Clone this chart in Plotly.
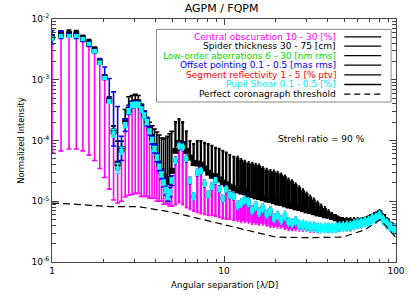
import numpy as np
import plotly.graph_objects as go

# ---------------- data ----------------
# angular separation [lambda/D]
x_sep = [1.0, 1.128, 1.256, 1.384, 1.512, 1.64, 1.768, 1.896, 2.024, 2.152,
         2.28, 2.408, 2.536, 2.664, 2.792, 2.92, 3.048, 3.176, 3.304, 3.432,
         3.56, 3.688, 3.816, 3.944, 4.072, 4.2, 4.328, 4.456, 4.584, 4.712,
         4.84, 4.968,
         5.22, 5.48, 5.75, 6.04, 6.34, 6.66, 6.99, 7.34, 7.71, 8.09,
         8.5, 8.92, 9.37, 9.84, 10.3, 10.8, 11.4, 12.0, 12.6, 13.2,
         13.9, 14.6, 15.3, 16.0, 16.8, 17.7, 18.6, 19.5, 20.5, 21.5,
         22.6, 23.7, 24.9, 26.1, 27.4, 28.8, 30.2, 31.7, 33.3, 35.0,
         36.7, 38.6, 40.5, 42.5, 44.7, 46.9, 49.2, 51.7, 54.3, 57.0,
         59.8, 62.8, 66.0, 69.3, 72.7, 76.4, 80.2, 84.2, 88.4, 92.8,
         97.5, 100.0]

# nominal normalized intensity (log10)
nominal_log = [-2.32, -2.28, -2.28, -2.28, -2.33, -2.41, -2.53, -2.72, -2.97, -3.36,
               -3.88, -4.46, -4.17, -3.75, -3.52, -3.42, -3.41, -3.41, -3.49, -3.59,
               -3.70, -3.85, -3.99, -4.14, -4.28, -4.43, -4.56, -4.69, -4.82, -4.93,
               -4.85, -4.66,
               -4.33, -4.09, -4.11, -4.30, -4.66, -4.92, -4.53, -4.50, -4.71, -4.89,
               -4.76, -4.66, -4.80, -4.95, -4.80, -4.90, -4.92, -5.07, -5.03, -4.98,
               -5.02, -5.15, -5.08, -5.18, -5.11, -5.21, -5.16, -5.28, -5.24, -5.31,
               -5.24, -5.34, -5.36, -5.33, -5.39, -5.39, -5.41, -5.42, -5.42, -5.44,
               -5.44, -5.44, -5.44, -5.44, -5.44, -5.42, -5.42, -5.41, -5.41, -5.39,
               -5.37, -5.36, -5.34, -5.33, -5.29, -5.28, -5.24, -5.31, -5.37, -5.42,
               -5.46, -5.47]

# central obscuration: lower bound (log10), upper bound = nominal
obsc_lo_log = [-4.20, -4.17, -4.14, -4.14, -4.17, -4.24, -4.33, -4.46, -4.61, -4.80,
               -4.98, -5.03, -5.00, -4.93, -4.90, -4.89, -4.87, -4.87, -4.92, -4.92,
               -4.92, -4.95, -4.95, -4.95, -5.00, -5.00, -5.00, -5.05, -5.05, -5.05,
               -5.08, -5.08,
               -5.05, -5.02, -5.05, -5.10, -5.13, -5.16, -5.18, -5.20, -5.21, -5.23,
               -5.23, -5.24, -5.26, -5.28, -5.29, -5.29, -5.31, -5.31, -5.33, -5.33,
               -5.34, -5.36, -5.36, -5.37, -5.37, -5.39, -5.41, -5.41, -5.42, -5.42,
               -5.44, -5.46, -5.46, -5.46, -5.47, -5.47, -5.47, -5.49, -5.49, -5.49,
               -5.49, -5.49, -5.49, -5.49, -5.49, -5.47, -5.47, -5.46, -5.46, -5.44,
               -5.42, -5.41, -5.39, -5.37, -5.34, -5.33, -5.29, -5.36, -5.42, -5.47,
               -5.50, -5.52]

# spider thickness: lower / upper bounds (log10)
spider_lo_log = [-2.30, -2.25, -2.25, -2.25, -2.32, -2.40, -2.51, -2.71, -2.96, -3.34,
                 -3.85, -4.38, -4.14, -3.68, -3.49, -3.39, -3.37, -3.37, -3.44, -3.55,
                 -3.67, -3.80, -3.94, -4.09, -4.25, -4.38, -4.50, -4.59, -4.66, -4.69,
                 -4.63, -4.50,
                 -4.17, -4.04, -4.06, -4.17, -4.28, -4.37, -4.38, -4.40, -4.46, -4.53,
                 -4.58, -4.59, -4.64, -4.69, -4.72, -4.76, -4.79, -4.82, -4.84, -4.85,
                 -4.89, -4.90, -4.92, -4.93, -4.95, -4.97, -4.98, -5.00, -5.02, -5.03,
                 -5.05, -5.07, -5.08, -5.10, -5.11, -5.13, -5.15, -5.16, -5.18, -5.20,
                 -5.21, -5.23, -5.24, -5.26, -5.28, -5.31, -5.33, -5.33, -5.34, -5.34,
                 -5.34, -5.33, -5.31, -5.29, -5.26, -5.23, -5.20, -5.26, -5.33, -5.39,
                 -5.42, -5.44]
spider_hi_log = [-2.27, -2.20, -2.18, -2.19, -2.27, -2.34, -2.46, -2.66, -2.92, -3.28,
                 -3.76, -4.01, -4.01, -3.49, -3.28, -3.26, -3.24, -3.26, -3.41, -3.52,
                 -3.62, -3.70, -3.76, -3.81, -3.86, -3.91, -3.96, -3.98, -3.96, -3.93,
                 -3.89, -3.85,
                 -3.70, -3.65, -3.70, -3.85, -4.01, -4.06, -4.01, -4.01, -4.04, -4.06,
                 -4.09, -4.12, -4.14, -4.17, -4.20, -4.24, -4.27, -4.28, -4.32, -4.35,
                 -4.37, -4.38, -4.40, -4.41, -4.45, -4.48, -4.50, -4.51, -4.53, -4.56,
                 -4.59, -4.64, -4.67, -4.72, -4.77, -4.82, -4.87, -4.92, -4.97, -5.02,
                 -5.07, -5.11, -5.16, -5.21, -5.24, -5.28, -5.29, -5.29, -5.29, -5.29,
                 -5.29, -5.29, -5.28, -5.26, -5.23, -5.20, -5.16, -5.23, -5.29, -5.36,
                 -5.39, -5.41]

# offset pointing: lower / upper bounds (log10)
pointing_lo_log = [-2.41, -2.32, -2.30, -2.32, -2.37, -2.45, -2.56, -2.74, -2.98, -3.36,
                   -4.09, -4.46, -4.33, -3.85, -3.57, -3.47, -3.44, -3.44, -3.54, -3.63,
                   -3.76, -3.91, -4.06, -4.20, -4.35, -4.50, -4.64, -4.77, -4.90, -5.00,
                   -4.93, -4.74,
                   -4.38, -4.14, -4.16, -4.35, -4.71, -4.97, -4.58, -4.55, -4.76, -4.94,
                   -4.81, -4.71, -4.85, -5.00, -4.85, -4.95, -4.97, -5.12, -5.08, -5.03,
                   -5.07, -5.20, -5.13, -5.23, -5.16, -5.26, -5.21, -5.33, -5.29, -5.36,
                   -5.29, -5.39, -5.41, -5.38, -5.44, -5.44, -5.46, -5.47, -5.47, -5.49,
                   -5.49, -5.49, -5.49, -5.49, -5.49, -5.47, -5.47, -5.46, -5.46, -5.44,
                   -5.42, -5.41, -5.39, -5.38, -5.34, -5.33, -5.29, -5.36, -5.42, -5.47,
                   -5.51, -5.52]
pointing_hi_log = [-2.19, -2.20, -2.24, -2.25, -2.30, -2.38, -2.50, -2.65, -2.79, -2.98,
                   -3.20, -3.44, -3.93, -3.65, -3.42, -3.36, -3.36, -3.36, -3.42, -3.52,
                   -3.63, -3.78, -3.93, -4.07, -4.22, -4.35, -4.48, -4.61, -4.74, -4.85,
                   -4.77, -4.58,
                   -4.28, -4.04, -4.06, -4.25, -4.61, -4.87, -4.48, -4.45, -4.66, -4.84,
                   -4.71, -4.61, -4.75, -4.90, -4.75, -4.85, -4.87, -5.02, -4.98, -4.93,
                   -4.97, -5.10, -5.03, -5.13, -5.06, -5.16, -5.11, -5.23, -5.19, -5.26,
                   -5.19, -5.29, -5.31, -5.28, -5.34, -5.34, -5.36, -5.37, -5.37, -5.39,
                   -5.39, -5.39, -5.39, -5.39, -5.39, -5.37, -5.37, -5.36, -5.36, -5.34,
                   -5.32, -5.31, -5.29, -5.28, -5.24, -5.23, -5.19, -5.26, -5.32, -5.37,
                   -5.41, -5.42]

# pupil shear: symmetric spread (dex)
shear_err_dex = [0.02, 0.02, 0.02, 0.02, 0.02, 0.02, 0.02, 0.02, 0.02, 0.03,
                 0.06, 0.08, 0.06, 0.04, 0.04, 0.04, 0.04, 0.04, 0.04, 0.04,
                 0.04, 0.04, 0.04, 0.04, 0.04, 0.04, 0.04, 0.04, 0.04, 0.04,
                 0.04, 0.04,
                 0.04, 0.04, 0.04, 0.04, 0.04, 0.05, 0.04, 0.04, 0.04, 0.05,
                 0.04, 0.04, 0.04, 0.05, 0.04, 0.04, 0.04, 0.05, 0.05, 0.04,
                 0.05, 0.05, 0.05, 0.05, 0.05, 0.05, 0.05, 0.05, 0.05, 0.05,
                 0.05, 0.05, 0.05, 0.05, 0.06, 0.06, 0.06, 0.06, 0.06, 0.06,
                 0.06, 0.06, 0.06, 0.06, 0.06, 0.06, 0.06, 0.06, 0.06, 0.06,
                 0.06, 0.06, 0.06, 0.06, 0.06, 0.06, 0.06, 0.06, 0.06, 0.06,
                 0.06, 0.06]

# perfect coronagraph threshold
thr_x = [1.0, 1.4, 2.2, 3.2, 5.0, 7.7, 12.0, 20.0, 31.0, 49.0, 66.0, 81.0, 100.0]
thr_log = [-5.03, -5.05, -5.09, -5.09, -5.18, -5.31, -5.44, -5.59, -5.60, -5.59,
           -5.47, -5.30, -5.60]

legend_labels = ["Central obscuration 10 - 30 [%]",
                 "Spider thickness 30 - 75 [cm]",
                 "Low-order aberrations 6 - 30 [nm rms]",
                 "Offset pointing 0.1 - 0.5 [mas rms]",
                 "Segment reflectivity 1 - 5 [% ptv]",
                 "Pupil Shear 0.1 - 0.5 [%]",
                 "Perfect coronagraph threshold"]
legend_colors = ["#ff00ff", "#000000", "#00dd00", "#0000ff", "#ff0000", "#00f0f0", "#000000"]

# ---------------- build ----------------
xs = np.array(x_sep)
nom = 10.0 ** np.array(nominal_log)
obs_lo = 10.0 ** np.array(obsc_lo_log)
sp_lo = 10.0 ** np.array(spider_lo_log)
sp_hi = 10.0 ** np.array(spider_hi_log)
pt_lo = 10.0 ** np.array(pointing_lo_log)
pt_hi = 10.0 ** np.array(pointing_hi_log)
sh = np.array(shear_err_dex)
sh_hi = nom * 10.0 ** sh
sh_lo = nom / 10.0 ** sh

FONT = "DejaVu Sans"
SEGS = [(0, 32, 1.6, 2.5), (32, 49, 2.3, 1.5), (49, len(x_sep), 3.9, 1.0)]

fig = go.Figure()


def add_series(y, up, dn, color, msize):
    for a, b, th, cw in SEGS:
        fig.add_trace(go.Scatter(
            x=xs[a:b], y=y[a:b], mode="markers",
            marker=dict(color=color, size=msize, symbol="square", line=dict(width=0)),
            error_y=dict(type="data", symmetric=False, array=up[a:b], arrayminus=dn[a:b],
                         color=color, thickness=th, width=cw),
            showlegend=False, hoverinfo="skip", cliponaxis=True))


# central obscuration (magenta)
add_series(nom, np.zeros_like(nom), nom - obs_lo, "#ff00ff", 3)
# spider thickness (black)
add_series(sp_lo, sp_hi - sp_lo, np.zeros_like(nom), "#000000", 0)
# offset pointing (blue)
add_series(nom, pt_hi - nom, nom - pt_lo, "#0000ff", 4)
# segment reflectivity (red) and low-order aberrations (green)
fig.add_trace(go.Scatter(x=xs, y=nom, mode="markers", showlegend=False, hoverinfo="skip",
                         marker=dict(color="#ff0000", size=4, symbol="square")))
fig.add_trace(go.Scatter(x=xs, y=nom, mode="markers", showlegend=False, hoverinfo="skip",
                         marker=dict(color="#00dd00", size=4, symbol="square")))
# pupil shear (cyan)
add_series(nom, sh_hi - nom, nom - sh_lo, "#00ffff", 4)

# threshold
fig.add_trace(go.Scatter(x=thr_x, y=10.0 ** np.array(thr_log), mode="lines",
                         line=dict(color="black", width=1.2, dash="7px,4px"),
                         showlegend=False, hoverinfo="skip"))

minor_x = [2, 3, 4, 5, 6, 7, 8, 9, 20, 30, 40, 50, 60, 70, 80, 90]
minor_y = [m * 10.0 ** e for e in range(-6, -2) for m in range(2, 10)]
axcol = "#444444"

fig.update_layout(
    width=417, height=298,
    margin=dict(l=52, r=16, t=16, b=36),
    paper_bgcolor="white", plot_bgcolor="white",
    showlegend=False,
    font=dict(family=FONT, size=9, color="black"),
    title=dict(text="AGPM / FQPM", x=0.493, xref="paper", xanchor="center",
               y=0.9715, yanchor="middle",
               font=dict(family=FONT, size=11, color="black")),
    xaxis=dict(type="log", range=[0, 2], tickmode="array", tickvals=[1, 10, 100],
               ticktext=["1", "10", "100"], ticks="inside", ticklen=6, tickwidth=1,
               tickcolor=axcol, showline=True, linecolor=axcol, linewidth=1,
               mirror="ticks", showgrid=False, zeroline=False,
               tickfont=dict(family=FONT, size=9),
               minor=dict(tickvals=minor_x, ticks="inside", ticklen=3, tickcolor=axcol,
                          tickwidth=1, showgrid=False)),
    yaxis=dict(type="log", range=[-6, -2], tickmode="array",
               tickvals=[1e-6, 1e-5, 1e-4, 1e-3, 1e-2],
               ticktext=["10<sup>-6</sup>", "10<sup>-5</sup>", "10<sup>-4</sup>",
                         "10<sup>-3</sup>", "10<sup>-2</sup>"],
               ticks="inside", ticklen=7, tickwidth=1, tickcolor=axcol,
               showline=True, linecolor=axcol, linewidth=1, mirror="ticks",
               showgrid=False, zeroline=False, tickfont=dict(family=FONT, size=9),
               minor=dict(tickvals=minor_y, ticks="inside", ticklen=4, tickcolor=axcol,
                          tickwidth=1, showgrid=False)),
)

annotations = [
    dict(text="Angular separation [λ/D]", xref="paper", yref="paper", x=0.5, y=-0.096,
         xanchor="center", yanchor="middle", showarrow=False, font=dict(size=8.7)),
    dict(text="Normalized Intensity", xref="paper", yref="paper", x=-0.092, y=0.5,
         xanchor="center", yanchor="middle", textangle=-90, showarrow=False,
         font=dict(size=8.4)),
    dict(text="Strehl ratio = 90 %", xref="paper", yref="paper", x=0.650, y=0.505,
         xanchor="left", yanchor="middle", showarrow=False, font=dict(size=9)),
]
shapes = [dict(type="rect", xref="paper", yref="paper", x0=0.3037, x1=0.9857,
               y0=0.6585, y1=0.9573, line=dict(color="#888888", width=1),
               fillcolor="white", layer="above")]
row_y = [0.9268, 0.8882, 0.8496, 0.8102, 0.7703, 0.7305, 0.6911]
for k, (lab, col) in enumerate(zip(legend_labels, legend_colors)):
    annotations.append(dict(text=lab, xref="paper", yref="paper", x=0.8309, y=row_y[k],
                            xanchor="right", yanchor="middle", showarrow=False,
                            font=dict(size=9, color=col)))
    shapes.append(dict(type="line", xref="paper", yref="paper", x0=0.8496, x1=0.9570,
                       y0=row_y[k], y1=row_y[k], layer="above",
                       line=dict(color="black", width=1.3,
                                 dash="6px,4px" if k == 6 else "solid")))
fig.update_layout(annotations=annotations, shapes=shapes)

fig.write_html("out.html",
               config={"displayModeBar": False},
               post_script="document.body.style.margin='0';"
                           "document.body.style.overflow='hidden';")
